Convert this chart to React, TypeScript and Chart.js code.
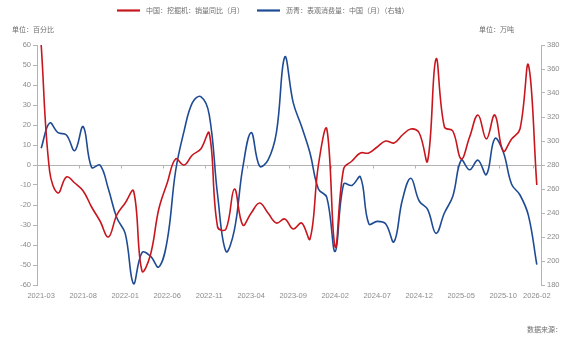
import { useEffect, useRef } from "react";
import { Chart, registerables } from "chart.js";

Chart.register(...registerables);

// Monthly categories, 2021-03 .. 2026-02
const months = [
  "2021-03", "2021-04", "2021-05", "2021-06", "2021-07", "2021-08", "2021-09", "2021-10", "2021-11", "2021-12",
  "2022-01", "2022-02", "2022-03", "2022-04", "2022-05", "2022-06", "2022-07", "2022-08", "2022-09", "2022-10",
  "2022-11", "2022-12", "2023-01", "2023-02", "2023-03", "2023-04", "2023-05", "2023-06", "2023-07", "2023-08",
  "2023-09", "2023-10", "2023-11", "2023-12", "2024-01", "2024-02", "2024-03", "2024-04", "2024-05", "2024-06",
  "2024-07", "2024-08", "2024-09", "2024-10", "2024-11", "2024-12", "2025-01", "2025-02", "2025-03", "2025-04",
  "2025-05", "2025-06", "2025-07", "2025-08", "2025-09", "2025-10", "2025-11", "2025-12", "2026-01", "2026-02",
];

// 中国：挖掘机：销量同比（月），%
const excavatorYoY = [
  60, -3, -14, -6, -9, -13, -21, -28, -36, -25,
  -19, -13, -53, -45, -22, -9, 3, 0, 5, 8,
  16, -31, -32, -12, -30, -24, -19, -24, -29, -27,
  -32, -29, -37, 0, 18, -41, -2, 2, 6, 6,
  9, 12, 11, 15, 18, 16, 2, 53, 19, 17,
  3, 14, 25, 13, 25, 7, 13, 18, 50, -10,
];

// 沥青：表观消费量：中国（月），万吨（右轴）
const asphaltUse = [
  294, 315, 307, 305, 292, 312, 278, 280, 260, 236,
  223, 181, 207, 204, 195, 217, 275, 308, 332, 337,
  322, 255, 208, 226, 278, 307, 279, 284, 307, 370,
  332, 312, 290, 260, 253, 208, 264, 263, 270, 231,
  233, 231, 216, 251, 269, 250, 243, 223, 240, 254,
  284, 276, 284, 272, 302, 291, 264, 255, 238, 197,
];

const legendNames = ["中国：挖掘机：销量同比（月）", "沥青：表观消费量：中国（月）（右轴）"];
const leftUnit = "单位：百分比";
const rightUnit = "单位：万吨";
const sourceNote = "数据来源：";

const RED = "#c8161e";
const BLUE = "#1f4b94";
const AXIS = "#b4b4b4";
const TICK_TEXT = "#8c8c8c";
const NOTE_TEXT = "#6e6e6e";
const CJK = '"Noto Sans CJK SC", "Noto Sans", sans-serif';
const NUM = '"Liberation Sans", Arial, sans-serif';

const isLabelled = (i: number) => i % 5 === 0 || i === months.length - 1;

// Zero line across the plot with small ticks at the labelled months
const zeroLine = {
  id: "zeroLine",
  beforeDatasetsDraw(chart: any) {
    const { ctx, chartArea, scales } = chart;
    const y = Math.round(scales.y.getPixelForValue(0)) + 0.5;
    const x = scales.x;
    const half = (x.getPixelForValue(1) - x.getPixelForValue(0)) / 2;
    ctx.save();
    ctx.strokeStyle = AXIS;
    ctx.lineWidth = 1;
    ctx.beginPath();
    ctx.moveTo(chartArea.left, y);
    ctx.lineTo(chartArea.right, y);
    for (let i = 0; i < months.length; i++) {
      if (!isLabelled(i) || i === 0) continue;
      const px = Math.round(x.getPixelForValue(i) - half) + 0.5;
      ctx.moveTo(px, y);
      ctx.lineTo(px, y + 3);
    }
    ctx.stroke();
    ctx.restore();
  },
};

// Legend, unit captions and source note
const captions = {
  id: "captions",
  afterDraw(chart: any) {
    const { ctx } = chart;
    ctx.save();
    ctx.textBaseline = "middle";
    ctx.font = `7px ${CJK}`;
    const items = [
      { color: RED, x: 117, name: legendNames[0] },
      { color: BLUE, x: 257, name: legendNames[1] },
    ];
    for (const it of items) {
      ctx.strokeStyle = it.color;
      ctx.lineWidth = 2.2;
      ctx.beginPath();
      ctx.moveTo(it.x, 10.5);
      ctx.lineTo(it.x + 23, 10.5);
      ctx.stroke();
      ctx.fillStyle = NOTE_TEXT;
      ctx.textAlign = "left";
      ctx.fillText(it.name, it.x + 29, 10.5);
    }
    ctx.fillStyle = NOTE_TEXT;
    ctx.textAlign = "left";
    ctx.fillText(leftUnit, 12, 29.5);
    ctx.textAlign = "right";
    ctx.fillText(rightUnit, 514, 29.5);
    ctx.textAlign = "left";
    ctx.fillText(sourceNote, 527, 329.5);
    ctx.restore();
  },
};

export default function App() {
  const canvasRef = useRef<HTMLCanvasElement | null>(null);

  useEffect(() => {
    const canvas = canvasRef.current;
    if (!canvas) return;
    const chart = new Chart(canvas, {
      type: "line",
      data: {
        labels: months,
        datasets: [
          {
            label: legendNames[0],
            data: excavatorYoY,
            yAxisID: "y",
            borderColor: RED,
            borderWidth: 1.6,
            pointRadius: 0,
            tension: 0.4,
            fill: false,
          },
          {
            label: legendNames[1],
            data: asphaltUse,
            yAxisID: "y1",
            borderColor: BLUE,
            borderWidth: 1.6,
            pointRadius: 0,
            tension: 0.4,
            fill: false,
          },
        ],
      },
      options: {
        responsive: false,
        animation: false,
        devicePixelRatio: 1,
        layout: { padding: { top: 45, left: 0, right: 0, bottom: 0 } },
        plugins: {
          legend: { display: false },
          tooltip: { enabled: false },
        },
        scales: {
          x: {
            type: "category",
            offset: true,
            grid: { display: false, drawTicks: false },
            border: { display: false },
            ticks: {
              autoSkip: false,
              maxRotation: 0,
              minRotation: 0,
              padding: 6,
              color: TICK_TEXT,
              font: { family: NUM, size: 7.5 },
              callback: (_v: any, i: number) => (isLabelled(i) ? months[i] : ""),
            },
            afterFit: (s: any) => {
              s.height = 55;
            },
          },
          y: {
            position: "left",
            min: -60,
            max: 60,
            grid: { drawOnChartArea: false, drawTicks: true, tickLength: 4, color: AXIS },
            border: { display: true, color: AXIS },
            ticks: {
              stepSize: 10,
              padding: 2,
              color: TICK_TEXT,
              font: { family: NUM, size: 7.5 },
            },
            afterFit: (s: any) => {
              s.width = 37;
            },
          },
          y1: {
            position: "right",
            min: 180,
            max: 380,
            grid: { drawOnChartArea: false, drawTicks: true, tickLength: 4, color: AXIS },
            border: { display: true, color: AXIS },
            ticks: {
              stepSize: 20,
              padding: 2,
              color: TICK_TEXT,
              font: { family: NUM, size: 7.5 },
            },
            afterFit: (s: any) => {
              s.width = 28;
            },
          },
        },
      },
      plugins: [zeroLine, captions],
    });
    return () => chart.destroy();
  }, []);

  return (
    <div style={{ position: "absolute", left: 0, top: 0, width: 569, height: 340, background: "#fff" }}>
      <canvas ref={canvasRef} width={569} height={340} />
    </div>
  );
}
